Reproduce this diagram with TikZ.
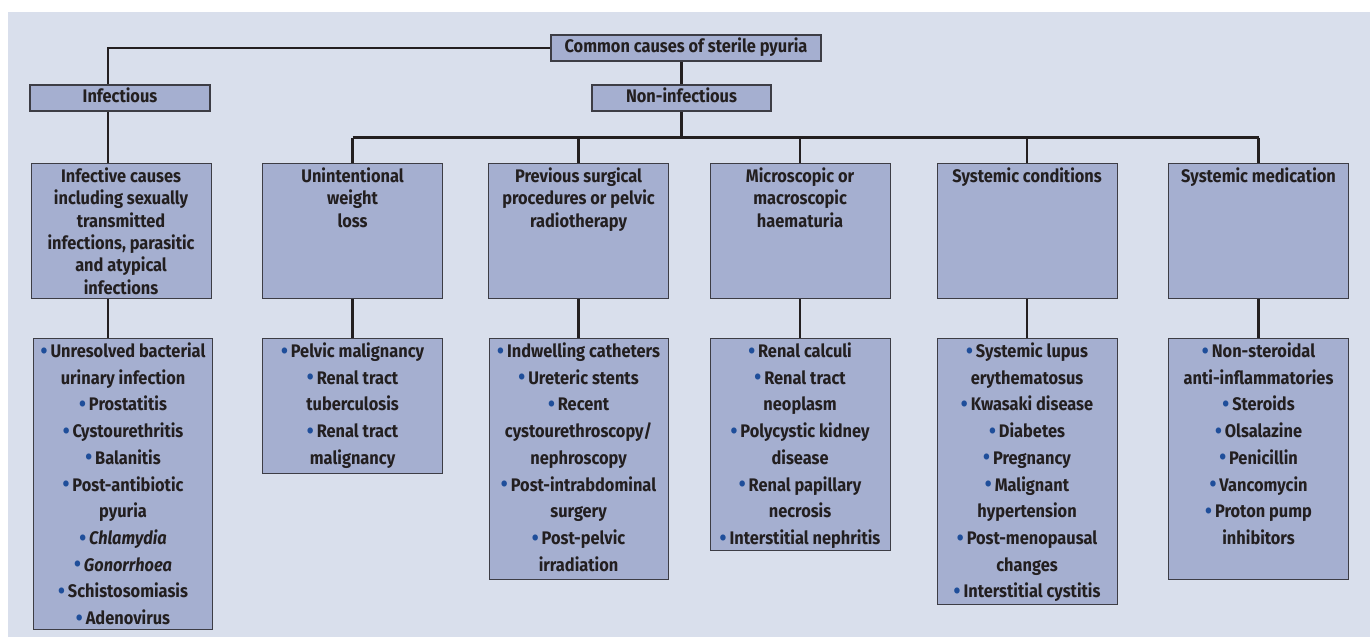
\documentclass[tikz,border=0pt]{standalone}
\usepackage{fontspec}
\usetikzlibrary{backgrounds}
\setmainfont{Fira Sans}[FakeStretch=0.9]
\definecolor{bgc}{HTML}{D9DFEC}
\definecolor{boxfill}{HTML}{A5AFD0}
\definecolor{boxline}{HTML}{3D3D45}
\definecolor{ink}{HTML}{231F20}
\definecolor{bul}{HTML}{1F4E9A}
\newcommand\mycell[4]{\begin{minipage}[t][#2pt][t]{#1pt}\centering\fontsize{18.2pt}{#3pt}\selectfont\rule{0pt}{19pt}#4\end{minipage}}
\newcommand\bu{\raisebox{-0.6pt}{\fontsize{22pt}{22pt}\selectfont\color{bul}•}\hspace{3pt}}
\begin{document}
\begin{tikzpicture}[x=1pt,y=-1pt,
  cell/.style={draw=boxline, fill=boxfill, line width=1.1pt, inner sep=0pt, anchor=north west, text=ink, font=\bfseries},
  topbox/.style={draw=boxline, fill=boxfill, line width=1.1pt, inner sep=0pt, text=ink,
    font=\bfseries\fontsize{18.2pt}{20pt}\selectfont, minimum height=26pt, text height=12pt, text depth=3.5pt},
  conn/.style={draw=ink, line width=2.3pt}]
\useasboundingbox (0,0) rectangle (1372,637);

% top level
\node[topbox, minimum width=270pt] (root) at (686,48) {Common causes of sterile pyuria};
\node[topbox, minimum width=180pt] (inf) at (120,98) {Infectious};
\node[topbox, minimum width=179pt] (non) at (681.5,98) {Non-infectious};

% header boxes
\node[cell] (h1) at (30.5,163) {\mycell{180}{135}{22.3}{Infective causes\\including sexually\\transmitted\\infections, parasitic\\and atypical\\infections}};
\node[cell] (h2) at (262,163) {\mycell{180}{135}{22.3}{Unintentional\\weight\\loss}};
\node[cell] (h3) at (488,163) {\mycell{180}{135}{22.3}{Previous surgical\\procedures or pelvic\\radiotherapy}};
\node[cell] (h4) at (709.5,163) {\mycell{180}{135}{22.3}{Microscopic or\\macroscopic\\haematuria}};
\node[cell] (h5) at (936.5,163) {\mycell{180}{135}{22.3}{Systemic conditions}};
\node[cell] (h6) at (1168,163) {\mycell{180}{135}{22.3}{Systemic medication}};

% list boxes
\node[cell] (l1) at (33,338) {\mycell{179}{291}{26.7}{\bu Unresolved bacterial\\urinary infection\\\bu Prostatitis\\\bu Cystourethritis\\\bu Balanitis\\\bu Post-antibiotic\\pyuria\\\bu \textit{Chlamydia}\\\bu \textit{Gonorrhoea}\\\bu Schistosomiasis\\\bu Adenovirus}};
\node[cell] (l2) at (262,338) {\mycell{180}{135}{26.7}{\bu Pelvic malignancy\\\bu Renal tract\\tuberculosis\\\bu Renal tract\\malignancy}};
\node[cell] (l3) at (488.5,338) {\mycell{179}{241}{26.7}{\bu Indwelling catheters\\\bu Ureteric stents\\\bu Recent\\cystourethroscopy/\\nephroscopy\\\bu Post-intrabdominal\\surgery\\\bu Post-pelvic\\irradiation}};
\node[cell] (l4) at (709.5,338) {\mycell{180}{212}{26.7}{\bu Renal calculi\\\bu Renal tract\\neoplasm\\\bu Polycystic kidney\\disease\\\bu Renal papillary\\necrosis\\\bu Interstitial nephritis}};
\node[cell] (l5) at (936.5,338) {\mycell{180}{266}{26.7}{\bu Systemic lupus\\erythematosus\\\bu Kwasaki disease\\\bu Diabetes\\\bu Pregnancy\\\bu Malignant\\hypertension\\\bu Post-menopausal\\changes\\\bu Interstitial cystitis}};
\node[cell] (l6) at (1168,338) {\mycell{180}{241}{26.7}{\bu Non-steroidal\\anti-inflammatories\\\bu Steroids\\\bu Olsalazine\\\bu Penicillin\\\bu Vancomycin\\\bu Proton pump\\inhibitors}};

% background and connectors
\begin{scope}[on background layer]
\fill[bgc] (8,12) rectangle (1370,637);
\path (108,0) coordinate (lcol);
\path (non.south) ++(0,26) coordinate (bus);
\draw[conn] (root.west) -| (inf.north -| lcol);
\draw[conn] (inf.south -| lcol) -- (h1.north -| lcol);
\draw[conn] (h1.south -| lcol) -- (l1.north -| lcol);
\draw[conn] (non.north |- root.south) -- (non.north);
\draw[conn] (non.south) -- (bus);
\draw[conn] (h2.north |- bus) -- (h6.north |- bus);
\foreach \i in {2,...,6} {
  \draw[conn] (h\i.north |- bus) -- (h\i.north);
  \draw[conn] (h\i.south) -- (l\i.north);
}
\end{scope}
\end{tikzpicture}
\end{document}
